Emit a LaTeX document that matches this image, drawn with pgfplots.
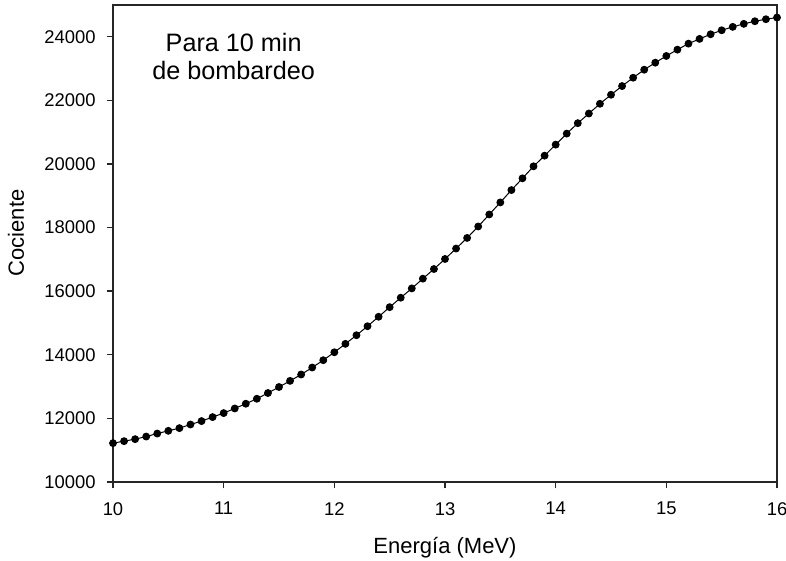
\documentclass[border=0pt]{standalone}
\usepackage{fontspec}
\setmainfont{Liberation Sans}
\usepackage{pgfplots}
\pgfplotsset{compat=1.18}
\usepackage{pgfplotstable}

% Cociente vs. energía, paso de 0.1 MeV
\pgfplotstableread{
E Q
10.0 11221
10.1 11284
10.2 11347
10.3 11429
10.4 11524
10.5 11609
10.6 11694
10.7 11808
10.8 11915
10.9 12041
11.0 12167
11.1 12312
11.2 12461
11.3 12618
11.4 12798
11.5 12987
11.6 13180
11.7 13380
11.8 13600
11.9 13830
12.0 14079
12.1 14344
12.2 14615
12.3 14899
12.4 15196
12.5 15498
12.6 15795
12.7 16088
12.8 16394
12.9 16697
13.0 17013
13.1 17341
13.2 17675
13.3 18035
13.4 18413
13.5 18792
13.6 19180
13.7 19549
13.8 19927
13.9 20262
14.0 20609
14.1 20956
14.2 21284
14.3 21587
14.4 21893
14.5 22177
14.6 22451
14.7 22713
14.8 22965
14.9 23186
15.0 23397
15.1 23596
15.2 23785
15.3 23934
15.4 24079
15.5 24205
15.6 24312
15.7 24407
15.8 24489
15.9 24552
16.0 24606
}\datos

\begin{document}
\begin{tikzpicture}
\path[use as bounding box] (-56.5pt,-39.5pt) rectangle (336.5pt,241pt);
\begin{axis}[
  scale only axis,
  width=332pt, height=238.5pt,
  xmin=10, xmax=16, ymin=10000, ymax=25000,
  xtick={10,...,16},
  ytick={10000,12000,...,24000},
  scaled y ticks=false,
  tick align=outside,
  xtick pos=left, ytick pos=left,
  major tick length=3.2pt,
  axis line style={line width=0.7pt, black!85},
  every tick/.style={line width=0.7pt, black!85},
  /pgf/number format/assume math mode=true,
  /pgf/number format/1000 sep={},
  tick label style={font=\fontsize{9.2pt}{11pt}\selectfont},
  xticklabel style={yshift=-3.4pt},
  yticklabel style={xshift=-2pt},
  label style={font=\fontsize{11pt}{13pt}\selectfont},
  xlabel={Energía (MeV)},
  ylabel={Cociente},
  xlabel style={at={(axis description cs:0.5,-0.138)}, anchor=center},
  ylabel style={at={(axis description cs:-0.146,0.522)}, anchor=center, rotate=0},
]
\addplot[black, line width=0.5pt, mark=*, mark size=1.7pt, mark options={fill=black}] table[x=E, y=Q] {\datos};
\node[align=center, font=\fontsize{12.6pt}{14pt}\selectfont] at (axis cs:11.09,23375) {Para 10 min\\de bombardeo};
\end{axis}
\end{tikzpicture}
\end{document}
